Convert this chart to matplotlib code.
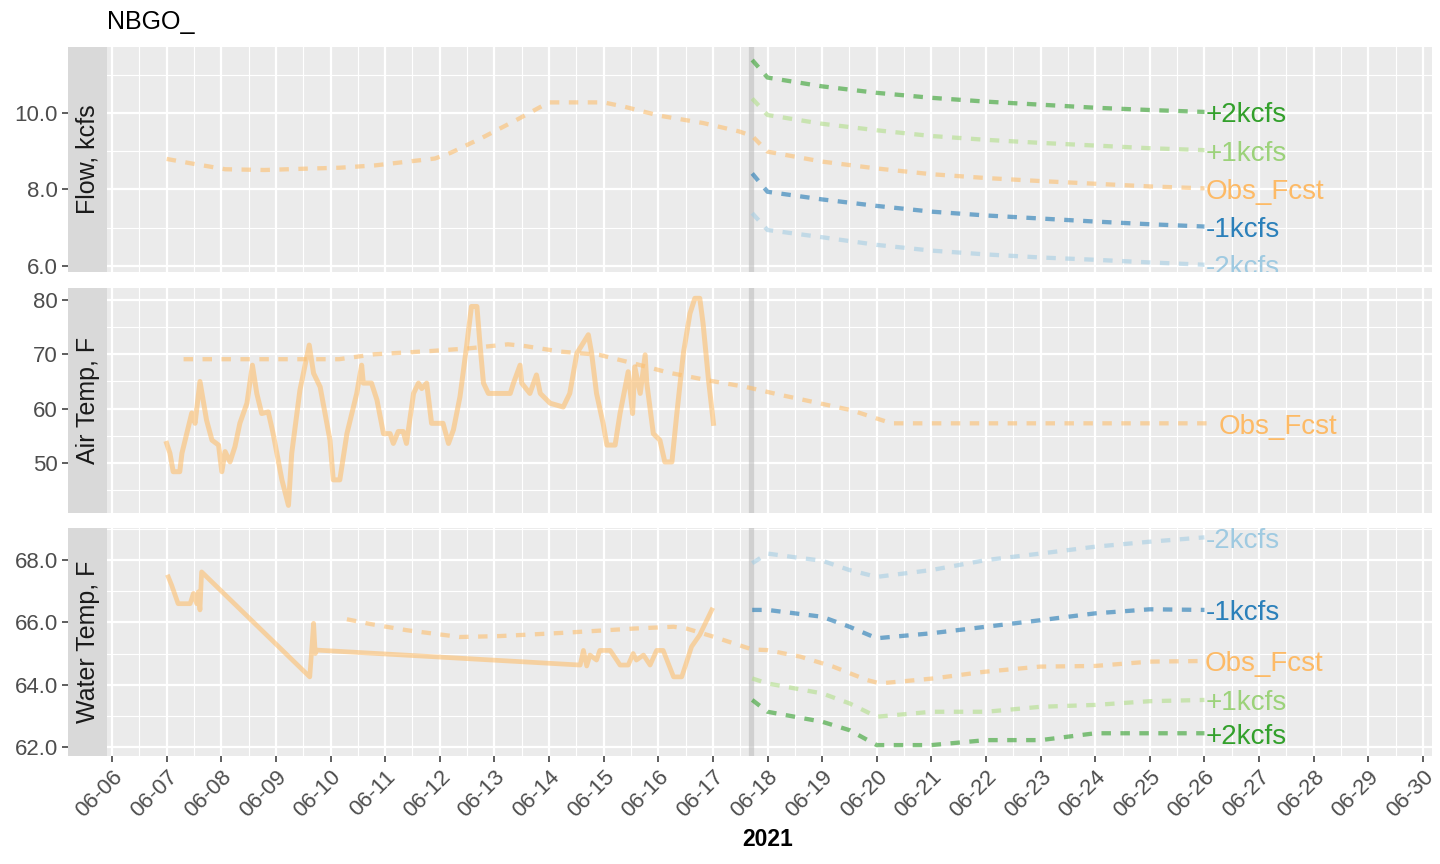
import matplotlib
matplotlib.use("Agg")
import matplotlib.pyplot as plt
from matplotlib.ticker import FixedLocator, FormatStrFormatter

plt.rcParams['font.family'] = ['Liberation Sans', 'DejaVu Sans']

# ---- data (time = fractional day of June 2021) ----
fcst_start = 17.70

# Flow, kcfs
flow_obs_t = [7.0, 7.42, 8.07, 8.79, 9.44, 10.17, 10.81, 11.54, 11.91, 12.2, 12.77, 13.43, 13.79,
              14.0, 15.0, 15.37, 16.03, 16.82, 17.48, 17.72, 18, 19, 20, 21, 22, 23, 24, 25, 26]
flow_obs_v = [8.80, 8.69, 8.53, 8.51, 8.54, 8.57, 8.63, 8.75, 8.81, 8.96, 9.35, 9.84, 10.12,
              10.28, 10.28, 10.17, 9.93, 9.74, 9.52, 9.40, 8.99, 8.73, 8.55, 8.40, 8.30, 8.22, 8.15, 8.08, 8.03]
flow_scen_t = [17.72, 18, 19, 20, 21, 22, 23, 24, 25, 26]
flow_p2 = [11.39, 10.93, 10.70, 10.53, 10.40, 10.30, 10.22, 10.14, 10.08, 10.03]
flow_p1 = [10.38, 9.95, 9.72, 9.55, 9.40, 9.30, 9.22, 9.15, 9.08, 9.03]
flow_m1 = [8.42, 7.94, 7.74, 7.57, 7.42, 7.32, 7.24, 7.16, 7.09, 7.03]
flow_m2 = [7.38, 6.94, 6.75, 6.55, 6.40, 6.30, 6.22, 6.16, 6.09, 6.03]

# Air Temp, F
air_obs_t = [7.00, 7.06, 7.12, 7.24, 7.28, 7.37, 7.46, 7.52, 7.61, 7.73, 7.83, 7.95, 8.01, 8.07,
             8.16, 8.25, 8.34, 8.47, 8.57, 8.65, 8.74, 8.86, 8.95, 9.11, 9.23, 9.29, 9.44, 9.61,
             9.69, 9.81, 9.99, 10.05, 10.17, 10.30, 10.48, 10.57, 10.60, 10.75, 10.85, 10.97,
             11.09, 11.15, 11.24, 11.33, 11.39, 11.52, 11.61, 11.67, 11.76, 11.85, 12.06, 12.16,
             12.25, 12.37, 12.49, 12.58, 12.68, 12.74, 12.80, 12.89, 13.10, 13.29, 13.35, 13.47,
             13.50, 13.65, 13.77, 13.84, 14.02, 14.26, 14.38, 14.51, 14.72, 14.78, 14.87, 14.99,
             15.06, 15.21, 15.30, 15.45, 15.53, 15.57, 15.67, 15.76, 15.79, 15.91, 16.03, 16.12,
             16.25, 16.34, 16.46, 16.58, 16.67, 16.76, 16.82, 16.92, 17.01]
air_obs_v = [53.6, 51.8, 48.4, 48.4, 51.8, 55.5, 59.2, 57.3, 65.0, 57.9, 54.2, 53.3, 48.4, 52.1,
             50.2, 53.0, 57.3, 61.0, 68.0, 62.8, 59.1, 59.4, 55.4, 46.9, 42.2, 51.8, 63.4, 71.7,
             66.5, 64.0, 54.2, 46.9, 46.9, 55.4, 62.8, 68.0, 64.7, 64.7, 61.6, 55.4,
             55.4, 53.6, 55.8, 55.8, 53.6, 62.8, 64.7, 63.7, 64.7, 57.3, 57.3, 53.6,
             56.1, 62.2, 71.4, 78.8, 78.8, 71.4, 64.7, 62.8, 62.8, 62.8, 64.7, 68.0,
             64.7, 62.8, 66.2, 62.8, 61.0, 60.3, 62.8, 70.2, 73.6, 70.2, 62.8, 57.3,
             53.3, 53.3, 59.1, 66.8, 59.1, 67.7, 62.8, 69.9, 64.7, 55.4, 54.2, 50.2,
             50.2, 59.1, 70.2, 77.5, 80.3, 80.3, 75.7, 65.3, 57.3]
air_fcst_t = [7.31, 10.16, 10.8, 11.83, 12.54, 13.25, 13.57, 14.21, 14.92, 15.56, 16.2, 16.97,
              17.6, 18.25, 18.9, 19.54, 20.18, 20.31, 26.19]
air_fcst_v = [69.1, 69.1, 70.0, 70.6, 71.1, 71.84, 71.5, 70.5, 69.9, 68.3, 66.6, 65.1,
              64.0, 62.5, 61.1, 59.7, 57.6, 57.3, 57.3]

# Water Temp, F
wt_obs_t = [7.03, 7.09, 7.21, 7.43, 7.49, 7.55, 7.58, 7.61, 7.64, 9.62, 9.69, 9.72, 9.75,
            14.57, 14.63, 14.69, 14.75, 14.87, 14.93, 15.12, 15.24, 15.30, 15.45, 15.54, 15.60,
            15.73, 15.85, 15.97, 16.09, 16.28, 16.43, 16.61, 16.76, 16.98]
wt_obs_v = [67.46, 67.2, 66.6, 66.6, 66.93, 66.6, 66.98, 66.4, 67.62, 64.25, 65.97, 65.0, 65.11,
            64.63, 65.1, 64.6, 64.95, 64.79, 65.1, 65.1, 64.79, 64.63, 64.63, 65.0, 64.79,
            64.95, 64.63, 65.1, 65.1, 64.25, 64.25, 65.22, 65.6, 66.4]
wt_fcst_t = [10.30, 10.72, 11.39, 12.37, 13.10, 14.32, 15.54, 16.28, 16.52, 17.01, 17.72, 17.99,
             18.60, 19.20, 19.82, 20.06, 21.04, 21.95, 22.99, 23.99, 25.0, 25.98]
wt_fcst_v = [66.1, 65.95, 65.75, 65.53, 65.56, 65.67, 65.8, 65.86, 65.8, 65.54, 65.13, 65.11,
             64.9, 64.58, 64.15, 64.04, 64.2, 64.41, 64.58, 64.6, 64.74, 64.76]
wt_scen_t = [17.72, 18, 18.5, 19, 19.5, 20, 21, 22, 23, 24, 25, 26]
wt_m2 = [67.9, 68.21, 68.09, 67.98, 67.68, 67.46, 67.68, 68.0, 68.21, 68.43, 68.59, 68.73]
wt_m1 = [66.4, 66.4, 66.29, 66.18, 65.86, 65.49, 65.65, 65.86, 66.07, 66.29, 66.42, 66.4]
wt_p1 = [64.2, 64.04, 63.88, 63.72, 63.4, 62.97, 63.13, 63.13, 63.29, 63.35, 63.47, 63.51]
wt_p2 = [63.51, 63.13, 62.97, 62.81, 62.54, 62.06, 62.06, 62.22, 62.22, 62.44, 62.44, 62.44]

day_ticks = list(range(6, 31))
day_labels = ["06-%02d" % d for d in day_ticks]

colors = {'+2kcfs': '#33A02C', '+1kcfs': '#B2DF8A', 'Obs_Fcst': '#FDBF6F',
          '-1kcfs': '#1F78B4', '-2kcfs': '#A6CEE3'}
text_colors = {'+2kcfs': '#33A02C', '+1kcfs': '#9CD27A', 'Obs_Fcst': '#FDBA66',
               '-1kcfs': '#2B80BA', '-2kcfs': '#9FCAE1'}

# ---- layout ----
W, H = 1440, 864
fig = plt.figure(figsize=(14.4, 8.64), dpi=100)
fig.patch.set_facecolor('white')


def box(x0, y0, x1, y1):
    return [x0 / W, 1 - y1 / H, (x1 - x0) / W, (y1 - y0) / H]


panels = [("Flow, kcfs", (47, 272), (5.84, 11.73), [6, 8, 10], [7, 9, 11], '%.1f'),
          ("Air Temp, F", (288, 513), (40.8, 82.2), [50, 60, 70, 80], [45, 55, 65, 75], '%d'),
          ("Water Temp, F", (528, 756), (61.71, 69.03), [62, 64, 66, 68], [63, 65, 67, 69], '%.1f')]

dash = (0, (2.2, 2.2))
LW = 3.1
axes = []
for i, (lab, (y0, y1), ylim, maj, mnr, fmt) in enumerate(panels):
    ax = fig.add_axes(box(107, y0, 1432, y1))
    st = fig.add_axes(box(68, y0, 107, y1), sharey=ax)
    ax.set_facecolor('#EBEBEB')
    for s in ax.spines.values():
        s.set_visible(False)
    ax.set_xlim(5.908, 30.165)
    ax.set_ylim(*ylim)
    ax.yaxis.set_major_locator(FixedLocator(maj))
    ax.yaxis.set_minor_locator(FixedLocator(mnr))
    ax.yaxis.set_major_formatter(FormatStrFormatter(fmt))
    ax.xaxis.set_major_locator(FixedLocator(day_ticks))
    ax.xaxis.set_minor_locator(FixedLocator([d + 0.5 for d in day_ticks]))
    ax.grid(which='major', color='white', lw=1.6)
    ax.grid(which='minor', color='white', lw=0.8)
    ax.set_axisbelow(True)
    ax.tick_params(axis='y', which='both', left=False, labelleft=False)
    ax.tick_params(axis='x', which='minor', length=0)
    if i < 2:
        ax.tick_params(axis='x', which='major', bottom=False, labelbottom=False)
    else:
        ax.set_xticks(day_ticks)
        ax.set_xticklabels(day_labels, rotation=45, ha='right', va='top',
                           rotation_mode='anchor')
        ax.tick_params(axis='x', which='major', length=4.3, width=1.1, color='#333333',
                       labelsize=16, labelcolor='#4D4D4D', pad=3)
    ax.axvline(fcst_start, color='#BEBEBE', alpha=0.6, lw=3.8, zorder=1)

    st.set_facecolor('#D9D9D9')
    for s in st.spines.values():
        s.set_visible(False)
    st.set_xticks([])
    st.tick_params(axis='y', which='major', length=4.3, width=1.1, color='#333333',
                   labelsize=16, labelcolor='#4D4D4D', pad=3)
    st.tick_params(axis='y', which='minor', length=0)
    st.text(0.5, 0.5, lab, rotation=90, transform=st.transAxes, ha='center', va='center',
            fontsize=18, color='#1A1A1A')
    axes.append(ax)


def end_label(ax, t, v, name, dx=1):
    ax.annotate(name, (t[-1], v[-1]), xytext=(dx, -2.5), textcoords='offset points',
                ha='left', va='center', fontsize=20, color=text_colors[name], clip_on=True)


ax1, ax2, ax3 = axes
# Flow
ax1.plot(flow_obs_t, flow_obs_v, color=colors['Obs_Fcst'], alpha=0.6, lw=LW, ls=dash, zorder=3)
for name, vals in [('+2kcfs', flow_p2), ('+1kcfs', flow_p1), ('-1kcfs', flow_m1), ('-2kcfs', flow_m2)]:
    ax1.plot(flow_scen_t, vals, color=colors[name], alpha=0.6, lw=LW, ls=dash, zorder=3)
    end_label(ax1, flow_scen_t, vals, name)
end_label(ax1, flow_obs_t, flow_obs_v, 'Obs_Fcst')

# Air temp
ax2.plot(air_obs_t, air_obs_v, color=colors['Obs_Fcst'], alpha=0.6, lw=3.6, zorder=3)
ax2.plot(air_fcst_t, air_fcst_v, color=colors['Obs_Fcst'], alpha=0.6, lw=LW, ls=dash, zorder=3)
end_label(ax2, air_fcst_t, air_fcst_v, 'Obs_Fcst', dx=3)

# Water temp
ax3.plot(wt_obs_t, wt_obs_v, color=colors['Obs_Fcst'], alpha=0.6, lw=3.4, zorder=3)
ax3.plot(wt_fcst_t, wt_fcst_v, color=colors['Obs_Fcst'], alpha=0.6, lw=LW, ls=dash, zorder=3)
for name, vals in [('-2kcfs', wt_m2), ('-1kcfs', wt_m1), ('+1kcfs', wt_p1), ('+2kcfs', wt_p2)]:
    ax3.plot(wt_scen_t, vals, color=colors[name], alpha=0.6, lw=LW, ls=dash, zorder=3)
    end_label(ax3, wt_scen_t, vals, name)
end_label(ax3, wt_fcst_t, wt_fcst_v, 'Obs_Fcst')

fig.text(107 / W, 1 - 22 / H, "NBGO_", fontsize=18, color='black', ha='left', va='center')
fig.text(768 / W, 1 - 840 / H, "2021", fontsize=16.5, fontweight='bold', ha='center', va='center')

fig.savefig("out.png", dpi=100)
